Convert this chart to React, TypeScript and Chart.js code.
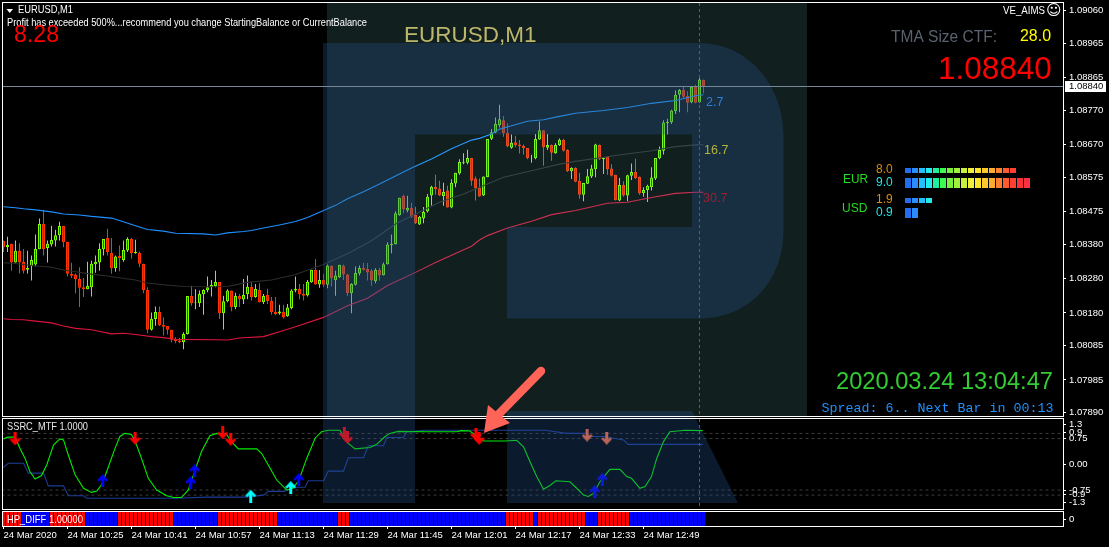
import React, { useEffect, useRef } from "react";
import { Chart, registerables } from "chart.js";

Chart.register(...registerables);

// ---------- candles (EURUSD M1) ----------
const openPrices = [
1.08389,1.08371,1.08381,1.08327,1.08361,1.08329,1.08306,1.08316,1.08321,1.08365,
1.08439,1.08369,1.08379,1.08391,1.08406,1.08433,1.08387,1.08294,1.08292,1.08279,
1.08255,1.08249,1.08255,1.08322,1.08327,1.08365,1.08398,1.08355,1.08310,1.08346,
1.08334,1.08362,1.08395,1.08354,1.08355,1.08323,1.08247,1.08131,1.08162,1.08183,
1.08145,1.08142,1.08131,1.08104,1.08100,1.08095,1.08119,1.08229,1.08208,1.08208,
1.08234,1.08246,1.08255,1.08258,1.08270,1.08179,1.08214,1.08245,1.08197,1.08229,
1.08219,1.08234,1.08256,1.08226,1.08247,1.08211,1.08232,1.08215,1.08183,1.08178,
1.08183,1.08170,1.08194,1.08245,1.08250,1.08235,1.08231,1.08269,1.08306,1.08263,
1.08276,1.08262,1.08317,1.08275,1.08284,1.08317,1.08292,1.08237,1.08262,1.08295,
1.08311,1.08308,1.08303,1.08272,1.08306,1.08290,1.08322,1.08377,1.08380,1.08464,
1.08520,1.08478,1.08486,1.08466,1.08437,1.08455,1.08475,1.08522,1.08547,1.08542,
1.08520,1.08536,1.08487,1.08557,1.08586,1.08617,1.08617,1.08631,1.08571,1.08544,
1.08522,1.08575,1.08687,1.08705,1.08726,1.08741,1.08704,1.08661,1.08677,1.08670,
1.08666,1.08660,1.08630,1.08630,1.08685,1.08712,1.08661,1.08669,1.08645,1.08668,
1.08684,1.08654,1.08592,1.08602,1.08564,1.08524,1.08556,1.08577,1.08598,1.08669,
1.08627,1.08635,1.08600,1.08582,1.08507,1.08552,1.08522,1.08579,1.08590,1.08576,
1.08528,1.08538,1.08546,1.08571,1.08630,1.08652,1.08732,1.08735,1.08767,1.08815,
1.08829,1.08811,1.08793,1.08840,1.08793,1.08858];
const closePrices = [
1.08371,1.08378,1.08327,1.08361,1.08327,1.08303,1.08311,1.08334,1.08366,1.08439,
1.08365,1.08381,1.08392,1.08406,1.08433,1.08386,1.08294,1.08288,1.08278,1.08253,
1.08249,1.08259,1.08323,1.08329,1.08366,1.08395,1.08357,1.08310,1.08344,1.08339,
1.08363,1.08395,1.08354,1.08358,1.08323,1.08246,1.08131,1.08163,1.08183,1.08144,
1.08140,1.08131,1.08102,1.08098,1.08095,1.08119,1.08229,1.08208,1.08210,1.08235,
1.08247,1.08255,1.08261,1.08270,1.08179,1.08214,1.08245,1.08197,1.08229,1.08220,
1.08232,1.08256,1.08226,1.08250,1.08211,1.08229,1.08215,1.08182,1.08177,1.08184,
1.08167,1.08196,1.08245,1.08250,1.08234,1.08230,1.08271,1.08306,1.08263,1.08276,
1.08262,1.08318,1.08281,1.08289,1.08320,1.08292,1.08237,1.08264,1.08296,1.08311,
1.08306,1.08298,1.08274,1.08306,1.08289,1.08322,1.08379,1.08381,1.08470,1.08515,
1.08482,1.08486,1.08460,1.08441,1.08460,1.08474,1.08518,1.08547,1.08540,1.08522,
1.08532,1.08487,1.08559,1.08588,1.08619,1.08620,1.08631,1.08565,1.08543,1.08519,
1.08577,1.08686,1.08706,1.08730,1.08744,1.08703,1.08665,1.08675,1.08668,1.08665,
1.08659,1.08630,1.08631,1.08686,1.08712,1.08662,1.08669,1.08646,1.08669,1.08684,
1.08652,1.08592,1.08602,1.08562,1.08524,1.08558,1.08578,1.08600,1.08670,1.08627,
1.08631,1.08598,1.08579,1.08509,1.08552,1.08522,1.08581,1.08590,1.08572,1.08528,
1.08538,1.08550,1.08574,1.08631,1.08654,1.08734,1.08736,1.08769,1.08815,1.08829,
1.08809,1.08792,1.08838,1.08792,1.08859,1.08840];
const highPrices = [
1.08391,1.08402,1.08381,1.08391,1.08383,1.08366,1.08361,1.08347,1.08408,1.08455,
1.08480,1.08391,1.08434,1.08422,1.08445,1.08433,1.08387,1.08326,1.08295,1.08313,
1.08282,1.08329,1.08332,1.08347,1.08383,1.08395,1.08425,1.08398,1.08347,1.08376,
1.08391,1.08400,1.08398,1.08393,1.08359,1.08323,1.08255,1.08181,1.08199,1.08199,
1.08167,1.08142,1.08131,1.08109,1.08107,1.08124,1.08229,1.08259,1.08249,1.08245,
1.08249,1.08286,1.08276,1.08303,1.08270,1.08230,1.08249,1.08245,1.08239,1.08235,
1.08279,1.08289,1.08271,1.08264,1.08266,1.08235,1.08250,1.08226,1.08226,1.08204,
1.08204,1.08206,1.08249,1.08286,1.08264,1.08264,1.08276,1.08306,1.08337,1.08305,
1.08294,1.08321,1.08318,1.08303,1.08320,1.08321,1.08294,1.08266,1.08315,1.08318,
1.08326,1.08325,1.08308,1.08310,1.08311,1.08327,1.08386,1.08408,1.08476,1.08515,
1.08524,1.08521,1.08501,1.08489,1.08462,1.08488,1.08526,1.08550,1.08582,1.08565,
1.08559,1.08550,1.08569,1.08588,1.08627,1.08645,1.08655,1.08631,1.08577,1.08571,
1.08577,1.08686,1.08715,1.08749,1.08786,1.08753,1.08732,1.08699,1.08696,1.08683,
1.08670,1.08660,1.08640,1.08701,1.08737,1.08712,1.08701,1.08670,1.08674,1.08688,
1.08686,1.08656,1.08604,1.08604,1.08588,1.08558,1.08599,1.08611,1.08672,1.08670,
1.08631,1.08635,1.08613,1.08582,1.08573,1.08563,1.08582,1.08615,1.08629,1.08577,
1.08546,1.08553,1.08604,1.08631,1.08664,1.08741,1.08745,1.08771,1.08827,1.08832,
1.08838,1.08825,1.08838,1.08844,1.08866,1.08859];
const lowPrices = [
1.08357,1.08357,1.08303,1.08327,1.08295,1.08295,1.08295,1.08274,1.08315,1.08365,
1.08347,1.08327,1.08373,1.08373,1.08391,1.08371,1.08286,1.08282,1.08237,1.08197,
1.08226,1.08249,1.08228,1.08297,1.08303,1.08347,1.08347,1.08294,1.08300,1.08301,
1.08329,1.08357,1.08338,1.08352,1.08313,1.08237,1.08121,1.08129,1.08143,1.08142,
1.08114,1.08117,1.08095,1.08092,1.08092,1.08074,1.08117,1.08201,1.08191,1.08197,
1.08175,1.08240,1.08228,1.08255,1.08162,1.08132,1.08211,1.08185,1.08191,1.08197,
1.08206,1.08220,1.08216,1.08224,1.08210,1.08206,1.08206,1.08175,1.08173,1.08175,
1.08164,1.08169,1.08191,1.08240,1.08220,1.08216,1.08228,1.08268,1.08262,1.08253,
1.08255,1.08252,1.08257,1.08230,1.08282,1.08276,1.08229,1.08179,1.08260,1.08289,
1.08303,1.08274,1.08259,1.08266,1.08274,1.08289,1.08321,1.08354,1.08379,1.08463,
1.08470,1.08473,1.08456,1.08439,1.08436,1.08441,1.08472,1.08492,1.08524,1.08520,
1.08492,1.08487,1.08485,1.08546,1.08582,1.08613,1.08613,1.08550,1.08507,1.08518,
1.08520,1.08575,1.08683,1.08703,1.08720,1.08693,1.08662,1.08658,1.08662,1.08644,
1.08641,1.08627,1.08617,1.08627,1.08684,1.08608,1.08654,1.08623,1.08643,1.08666,
1.08650,1.08590,1.08570,1.08560,1.08512,1.08505,1.08555,1.08573,1.08575,1.08625,
1.08584,1.08582,1.08577,1.08507,1.08505,1.08518,1.08505,1.08567,1.08570,1.08524,
1.08518,1.08503,1.08536,1.08567,1.08627,1.08641,1.08699,1.08730,1.08759,1.08764,
1.08805,1.08764,1.08790,1.08790,1.08792,1.08819];

// ---------- TMA band lines: [bar index], [price] ----------
const upperBandBars = [0,3,5,8,12,15,19,22,27,29,33,36,40,43,50,53,56,60,62,65,69,73,76,79,83,86,90,94,97,102,107,112,117,119,122,124,127,131,135,139,143,150,156,162,168,173,175];
const upperBandPrices = [1.08489,1.08486,1.08483,1.08480,1.08474,1.08468,1.08465,1.08461,1.08456,1.08449,1.08434,1.08423,1.08418,1.08412,1.08410,1.08407,1.08413,1.08417,1.08420,1.08427,1.08436,1.08446,1.08458,1.08473,1.08493,1.08512,1.08533,1.08555,1.08573,1.08602,1.08628,1.08658,1.08683,1.08688,1.08701,1.08715,1.08725,1.08738,1.08742,1.08752,1.08761,1.08769,1.08778,1.08790,1.08798,1.08812,1.08815];
const midBandBars = [0,3,7,12,15,18,22,25,28,33,36,40,45,51,56,61,67,73,80,86,92,98,103,109,115,125,132,139,143,153,162,168,173,175];
const midBandPrices = [1.08326,1.08324,1.08318,1.08313,1.08305,1.08300,1.08293,1.08289,1.08284,1.08276,1.08267,1.08262,1.08257,1.08256,1.08257,1.08269,1.08276,1.08292,1.08321,1.08352,1.08390,1.08439,1.08468,1.08502,1.08526,1.08575,1.08594,1.08613,1.08621,1.08638,1.08652,1.08664,1.08669,1.08669];
const lowerBandBars = [0,2,5,8,12,15,18,22,27,30,33,37,40,43,53,56,59,65,69,73,80,86,91,96,103,108,117,119,121,126,132,137,143,151,156,162,168,173,175];
const lowerBandPrices = [1.08163,1.08161,1.08160,1.08156,1.08151,1.08142,1.08135,1.08131,1.08119,1.08121,1.08117,1.08111,1.08108,1.08103,1.08102,1.08101,1.08107,1.08111,1.08125,1.08140,1.08167,1.08201,1.08223,1.08260,1.08298,1.08327,1.08374,1.08392,1.08405,1.08427,1.08447,1.08466,1.08478,1.08499,1.08502,1.08516,1.08528,1.08531,1.08531];

const priceTicks = [1.0906,1.08965,1.08865,1.0877,1.0867,1.08575,1.08475,1.0838,1.0828,1.0818,1.08085,1.07985,1.0789];
const currentPrice = 1.0884;
const separatorBar = 174;

// ---------- SSRC_MTF oscillator ----------
const ssrcBars = [0,1,2.9,4.1,5.4,6.6,7.9,9.5,10.8,12.5,14.1,15,16.2,17.9,20,22,23.3,24.5,25.8,27.9,29.1,30.4,32,32.9,34.5,36.2,38.3,40.8,42.5,44.5,46.2,47.9,49.5,51.6,53.3,55.8,57,58.7,63.3,64.5,66.2,68.3,70.8,72,73.7,75.8,77.9,79.5,81.2,84.1,86.2,87.9,91.6,93.3,95.4,96.6,98.7,105.8,113.3,114.5,116.6,120,125.4,128.3,130,131.6,133.3,135,136.6,138.1,141.6,143.3,145,146.2,147.5,149.1,151.6,154.1,155.8,157,159.1,160.4,162,163.3,165,166.6,170.4,174.8];
const ssrcValues = [0.74,0.79,0.79,0.47,0.17,-0.21,-0.43,-0.33,-0.02,0.56,0.74,0.71,0.27,-0.31,-0.70,-0.82,-0.78,-0.60,-0.21,0.47,0.81,0.90,0.87,0.68,0.17,-0.41,-0.75,-0.92,-0.97,-0.97,-0.75,-0.17,0.37,0.83,0.90,0.87,0.66,0.45,0.45,0.32,-0.02,-0.46,-0.75,-0.72,-0.51,0.17,0.76,0.95,0.99,0.99,0.61,0.45,0.49,0.58,0.81,0.90,0.96,0.95,0.95,0.98,0.97,0.68,0.68,0.70,0.51,0.08,-0.36,-0.73,-0.62,-0.48,-0.51,-0.70,-0.90,-0.94,-0.85,-0.51,-0.15,-0.15,-0.36,-0.41,-0.70,-0.65,-0.36,0.17,0.66,0.95,0.99,0.98];
const mtfBars = [0,1.2,5,6.2,10,11.2,15,16.2,20,20.8,43.3,50.8,60.4,65,66.2,70,72.9,75.4,76.2,80,81.2,85,86.2,90,91.2,95,95.8,100,100.8,105.4,135.4,140.8,145.8,146.6,150,155,156.2,174.8];
const mtfValues = [-0.09,0.03,0.03,-0.26,-0.26,-0.63,-0.63,-0.92,-0.92,-0.99,-0.99,-0.96,-0.96,-0.90,-0.79,-0.79,-0.67,-0.67,-0.48,-0.48,-0.20,-0.20,0.19,0.19,0.54,0.54,0.78,0.78,0.95,0.99,0.99,0.90,0.90,0.81,0.81,0.71,0.58,0.58];
const oscLevels = [0.9,0.75,-0.75,-0.9];
const oscTickValues = [1.155,0.92,0.75,0,-0.76,-0.88,-1.11];
const oscTickLabels = ["1.3","0.9","0.75","0.00","-0.75","-0.9","-1.3"];

const sellArrowBars = [2.9,32.9,54.8,56.8,85.2,86,118.1,118.9];
const sellArrowValues = [0.74,0.76,0.92,0.73,0.90,0.78,0.87,0.76];
const fadedSellBars = [145.9,150.8];
const fadedSellValues = [0.85,0.76];
const buyArrowBars = [24.8,47.8,46.8,73.8,147.8,149.7];
const buyArrowValues = [-0.48,-0.19,-0.54,-0.45,-0.80,-0.44];
const cyanArrowBars = [61.8,71.8];
const cyanArrowValues = [-0.93,-0.68];

// ---------- HP_DIFF (1 = red, -1 = blue) ----------
const hpDiff = [
1,1,1,1,1,-1,-1,-1,-1,-1,-1,-1,1,1,1,1,1,1,1,1,
1,-1,-1,-1,-1,-1,-1,-1,-1,1,1,1,1,1,1,1,1,1,1,1,
1,1,1,-1,-1,-1,-1,-1,-1,-1,-1,-1,-1,-1,1,1,1,1,1,1,
1,1,1,1,1,1,1,1,1,-1,-1,-1,-1,-1,-1,-1,-1,-1,-1,-1,
-1,-1,-1,-1,1,1,1,-1,-1,-1,-1,-1,-1,-1,-1,-1,-1,-1,-1,-1,
-1,-1,-1,-1,-1,-1,-1,-1,-1,-1,-1,-1,-1,-1,-1,-1,-1,-1,-1,-1,
-1,-1,-1,-1,-1,-1,1,1,1,1,1,1,1,-1,1,1,1,1,1,1,
1,1,1,1,1,1,-1,-1,-1,1,1,1,1,1,1,1,1,-1,-1,-1,
-1,-1,-1,-1,-1,-1,-1,-1,-1,-1,-1,-1,-1,-1,-1,-1];

const timeTickBars = [0,16,32,48,64,80,96,112,128,144,160];
const timeTickLabels = ["24 Mar 2020","24 Mar 10:25","24 Mar 10:41","24 Mar 10:57","24 Mar 11:13","24 Mar 11:29","24 Mar 11:45","24 Mar 12:01","24 Mar 12:17","24 Mar 12:33","24 Mar 12:49"];

// ---------- currency strength meter ----------
const strengthRows = [
  { count: 16, top: 168, h: 5 },
  { count: 18, top: 178, h: 10 },
  { count: 4, top: 198, h: 5 },
  { count: 2, top: 208, h: 10 },
];
const strengthColors = ["#1f6ff0","#2a8cff","#22c0ff","#22ecec","#1ef0a0","#3cfa50","#78f040","#a0f03c","#c8f03c","#f0f03c","#ffe62e","#ffc82e","#ffaa30","#ff8030","#ff5a30","#ff4030","#ff3038","#ff3040"];

const SANS = "'Liberation Sans'";
const labels = [
  { t: "EURUSD,M1", x: 18, y: 10.5, f: `10.5px ${SANS}`, c: "#ffffff", w: 55 },
  { t: "Profit has exceeded 500%...recommend you change StartingBalance or CurrentBalance", x: 7, y: 23.5, f: `10.5px ${SANS}`, c: "#ffffff", w: 360 },
  { t: "8.28", x: 14, y: 36, f: `23.5px ${SANS}`, c: "#ff0000", w: 45 },
  { t: "EURUSD,M1", x: 404, y: 36, f: `22.5px ${SANS}`, c: "#bdb76b", w: 137 },
  { t: "VE_AIMS", x: 1003, y: 11.5, f: `10.5px ${SANS}`, c: "#ffffff", w: 42 },
  { t: "\u263A", x: 1046, y: 11.5, f: `15px 'DejaVu Sans'`, c: "#ffffff" },
  { t: "TMA Size CTF:", x: 891, y: 37, f: `16.5px ${SANS}`, c: "#5a6270", w: 106 },
  { t: "28.0", x: 1020, y: 37, f: `16px ${SANS}`, c: "#ffff00", w: 31 },
  { t: "1.08840", x: 938, y: 70.5, f: `31.5px ${SANS}`, c: "#ff0000", w: 114 },
  { t: "2.7", x: 706, y: 103, f: `12.5px ${SANS}`, c: "#2a82d8" },
  { t: "16.7", x: 704, y: 151, f: `12.5px ${SANS}`, c: "#b4b43c" },
  { t: "30.7", x: 703, y: 199, f: `12.5px ${SANS}`, c: "#a01e32" },
  { t: "EUR", x: 843, y: 180, f: `12px ${SANS}`, c: "#22dd22", w: 25 },
  { t: "USD", x: 842, y: 209, f: `12px ${SANS}`, c: "#22dd22", w: 26 },
  { t: "8.0", x: 876, y: 170, f: `12px ${SANS}`, c: "#d98e14" },
  { t: "9.0", x: 876, y: 183, f: `12px ${SANS}`, c: "#1ee6e6" },
  { t: "1.9", x: 876, y: 200, f: `12px ${SANS}`, c: "#d98e14" },
  { t: "0.9", x: 876, y: 213, f: `12px ${SANS}`, c: "#1ee6e6" },
  { t: "2020.03.24 13:04:47", x: 836, y: 382, f: `23.7px ${SANS}`, c: "#32cd32", w: 217 },
  { t: "Spread: 6.. Next Bar in 00:13", x: 821.5, y: 408, f: `13.33px 'Liberation Mono'`, c: "#1e90ff" },
];

const bull = "#7cfc00";
const bear = "#ff3300";
const bullFill = "#1f6b00";
const bearFill = "#d02000";
const X_MIN = -0.5;
const X_MAX = 264.875;

function toXY(xs: number[], ys: number[]) {
  return xs.map((x, i) => ({ x, y: ys[i] }));
}

function drawText(ctx: any, l: any) {
  ctx.font = l.f;
  ctx.fillStyle = l.c;
  ctx.textBaseline = "middle";
  ctx.textAlign = "left";
  if (l.w) ctx.fillText(l.t, l.x, l.y, l.w);
  else ctx.fillText(l.t, l.x, l.y);
}

function drawLogo(ctx: any, pageTop: number, withPanel: boolean) {
  ctx.save();
  ctx.translate(0, -pageTop);
  if (withPanel) {
    ctx.fillStyle = "rgba(120,207,207,0.15)";
    ctx.fillRect(327, 3, 480, 413);
  }
  ctx.fillStyle = "rgba(37,87,147,0.3)";
  ctx.beginPath();
  ctx.moveTo(323, 43);
  ctx.lineTo(699, 43);
  ctx.bezierCurveTo(750, 43, 783.5, 88, 783.5, 135);
  ctx.lineTo(783.5, 230);
  ctx.bezierCurveTo(783.5, 280, 750, 318.5, 699, 318.5);
  ctx.lineTo(507, 318.5);
  ctx.lineTo(507, 227);
  ctx.lineTo(692, 227);
  ctx.lineTo(692, 134.5);
  ctx.lineTo(415, 134.5);
  ctx.lineTo(415, 503);
  ctx.lineTo(323, 503);
  ctx.closePath();
  ctx.moveTo(507, 411);
  ctx.lineTo(692, 411);
  ctx.lineTo(738, 503);
  ctx.lineTo(507, 503);
  ctx.closePath();
  ctx.fill();
  ctx.restore();
}

function drawCallout(ctx: any, pageTop: number) {
  ctx.save();
  ctx.translate(0, -pageTop);
  ctx.strokeStyle = "#ff6459";
  ctx.fillStyle = "#ff6459";
  ctx.lineWidth = 8.5;
  ctx.lineCap = "round";
  ctx.beginPath();
  ctx.moveTo(541, 371);
  ctx.lineTo(497, 416);
  ctx.stroke();
  ctx.beginPath();
  ctx.moveTo(484, 433);
  ctx.lineTo(488, 405);
  ctx.lineTo(510, 423);
  ctx.closePath();
  ctx.fill();
  ctx.restore();
}

function drawSeparator(chart: any, yTop: number, yBottom: number) {
  const ctx = chart.ctx;
  const x = Math.floor(chart.scales.x.getPixelForValue(separatorBar)) + 0.5;
  ctx.save();
  ctx.strokeStyle = "#66662a";
  ctx.lineWidth = 1;
  ctx.setLineDash([3, 3]);
  ctx.beginPath();
  ctx.moveTo(x, yTop);
  ctx.lineTo(x, yBottom);
  ctx.stroke();
  ctx.restore();
}

function drawFrame(chart: any) {
  const { left, right, top, bottom } = chart.chartArea;
  const ctx = chart.ctx;
  ctx.save();
  ctx.strokeStyle = "#ffffff";
  ctx.lineWidth = 1;
  ctx.strokeRect(left + 1, top - 0.5, right - left - 0.5, bottom - top + 1);
  ctx.restore();
}

function arrowImage(color: string, up: boolean) {
  const c = document.createElement("canvas");
  c.width = 11;
  c.height = 13;
  const g = c.getContext("2d") as CanvasRenderingContext2D;
  if (!up) {
    g.translate(0, 13);
    g.scale(1, -1);
  }
  g.fillStyle = color;
  g.beginPath();
  g.moveTo(5.5, 0);
  g.lineTo(11, 6);
  g.lineTo(9, 7.5);
  g.lineTo(7, 5.5);
  g.lineTo(7, 13);
  g.lineTo(4, 13);
  g.lineTo(4, 5.5);
  g.lineTo(2, 7.5);
  g.lineTo(0, 6);
  g.closePath();
  g.fill();
  return c;
}

function noPadding(s: any) {
  s.paddingTop = 0;
  s.paddingBottom = 0;
  s.paddingLeft = 0;
  s.paddingRight = 0;
}

function hiddenX() {
  return { type: "linear", display: false, offset: false, min: X_MIN, max: X_MAX, grid: { offset: false } };
}

function rightAxis(values: number[], labelFor: (v: number, i: number) => string, min: number, max: number) {
  return {
    position: "right",
    min,
    max,
    afterFit(s: any) { s.width = 46; noPadding(s); },
    afterBuildTicks(s: any) { s.ticks = values.map((value) => ({ value })); },
    grid: { drawOnChartArea: false, drawTicks: true, tickLength: 3, tickColor: "#ffffff" },
    border: { display: false },
    ticks: {
      autoSkip: false,
      padding: 3,
      color: "#ffffff",
      font: { family: "Liberation Sans", size: 9.5 },
      callback: labelFor,
    },
  };
}

const base = {
  responsive: false,
  animation: false,
  devicePixelRatio: 1,
  events: [],
};
const quiet = { legend: { display: false }, tooltip: { enabled: false } };

export default function App() {
  const mainRef = useRef<HTMLCanvasElement>(null);
  const oscRef = useRef<HTMLCanvasElement>(null);
  const hpRef = useRef<HTMLCanvasElement>(null);

  useEffect(() => {
    document.body.style.margin = "0";
    document.body.style.background = "#000";
    const idx = openPrices.map((_, i) => i);
    const isUp = idx.map((i) => closePrices[i] >= openPrices[i]);
    const colors = isUp.map((u) => (u ? bull : bear));
    const fills = isUp.map((u) => (u ? bullFill : bearFill));

    const band = (xs: number[], ys: number[], color: string) => ({
      type: "line", data: toXY(xs, ys), borderColor: color, borderWidth: 1.1,
      pointRadius: 0, tension: 0, order: 1,
    });

    const main = new Chart(mainRef.current as any, {
      type: "bar",
      data: {
        datasets: [
          band(upperBandBars, upperBandPrices, "#1e90ff"),
          band(midBandBars, midBandPrices, "#2c2c2c"),
          band(lowerBandBars, lowerBandPrices, "#dc143c"),
          {
            data: idx.map((i) => ({ x: i, y: [Math.min(openPrices[i], closePrices[i]), Math.max(openPrices[i], closePrices[i])] })),
            grouped: false, barThickness: 3, backgroundColor: fills, borderColor: colors,
            borderWidth: 1, borderSkipped: false, inflateAmount: 0, order: 2,
          },
          {
            data: idx.map((i) => ({ x: i, y: [lowPrices[i], highPrices[i]] })),
            grouped: false, barThickness: 1, backgroundColor: colors, borderWidth: 0,
            inflateAmount: 0, order: 3,
          },
        ],
      },
      options: {
        ...base,
        layout: { autoPadding: false, padding: { left: 1.5, top: 3, bottom: 2, right: 0 } },
        plugins: quiet,
        scales: {
          x: hiddenX(),
          y: rightAxis(priceTicks, (v: number) => v.toFixed(5), 1.0788, 1.09082),
        },
      },
      plugins: [{
        id: "mainDecor",
        afterDatasetsDraw(chart: any) {
          drawLogo(chart.ctx, 0, true);
        },
        afterDraw(chart: any) {
          const ctx = chart.ctx;
          const py = Math.floor(chart.scales.y.getPixelForValue(currentPrice)) + 0.5;
          ctx.save();
          ctx.strokeStyle = "#778899";
          ctx.lineWidth = 1;
          ctx.beginPath();
          ctx.moveTo(3, py);
          ctx.lineTo(chart.chartArea.right, py);
          ctx.stroke();
          drawSeparator(chart, 3, 416);
          drawFrame(chart);
          ctx.fillStyle = "#ffffff";
          ctx.fillRect(1065, py - 5.5, 41, 11);
          ctx.font = `9.5px ${SANS}`;
          ctx.fillStyle = "#000000";
          ctx.textBaseline = "middle";
          ctx.textAlign = "left";
          ctx.fillText(currentPrice.toFixed(5), 1069, py);
          // panel triangle
          ctx.fillStyle = "#ffffff";
          ctx.beginPath();
          ctx.moveTo(6.5, 9);
          ctx.lineTo(13, 9);
          ctx.lineTo(9.75, 13);
          ctx.closePath();
          ctx.fill();
          labels.forEach((l) => drawText(ctx, l));
          strengthRows.forEach((r) => {
            for (let k = 0; k < r.count; k++) {
              ctx.fillStyle = strengthColors[k];
              ctx.fillRect(905 + k * 7, r.top, 6, r.h);
            }
          });
          drawCallout(ctx, 0);
          ctx.restore();
        },
      }],
    } as any);

    const oscX = [X_MIN, X_MAX];
    const osc = new Chart(oscRef.current as any, {
      type: "line",
      data: {
        datasets: [
          ...oscLevels.map((lv) => ({
            data: oscX.map((x) => ({ x, y: lv })), borderColor: "#3c3c3c", borderWidth: 1,
            borderDash: [3, 3], pointRadius: 0, order: 5,
          })),
          { data: toXY(mtfBars, mtfValues), borderColor: "#1c3c96", borderWidth: 1.1, pointRadius: 0, tension: 0, order: 4 },
          { data: toXY(ssrcBars, ssrcValues), borderColor: "#00ee00", borderWidth: 1.1, pointRadius: 0, tension: 0, order: 3 },
          { type: "scatter", data: toXY(sellArrowBars, sellArrowValues), pointStyle: arrowImage("#ff0000", false), showLine: false, order: 1 },
          { type: "scatter", data: toXY(fadedSellBars, fadedSellValues), pointStyle: arrowImage("#ff6a42", false), showLine: false, order: 1 },
          { type: "scatter", data: toXY(buyArrowBars, buyArrowValues), pointStyle: arrowImage("#0000ff", true), showLine: false, order: 1 },
          { type: "scatter", data: toXY(cyanArrowBars, cyanArrowValues), pointStyle: arrowImage("#00ffff", true), showLine: false, order: 1 },
        ],
      },
      options: {
        ...base,
        layout: { autoPadding: false, padding: { left: 1.5, top: 1, bottom: 2, right: 0 } },
        plugins: quiet,
        scales: {
          x: hiddenX(),
          y: rightAxis(oscTickValues, (_: number, i: number) => oscTickLabels[i], -1.305, 1.32),
        },
      },
      plugins: [{
        id: "oscDecor",
        afterDatasetsDraw(chart: any) {
          drawLogo(chart.ctx, 418, false);
        },
        afterDraw(chart: any) {
          drawSeparator(chart, 1, 91);
          drawFrame(chart);
          drawText(chart.ctx, { t: "SSRC_MTF 1.0000", x: 7, y: 9.5, f: `10.5px ${SANS}`, c: "#e8e8e8", w: 81 });
          drawCallout(chart.ctx, 418);
        },
      }],
    } as any);

    const hp = new Chart(hpRef.current as any, {
      type: "bar",
      data: {
        datasets: [{
          data: hpDiff.map((_, i) => ({ x: i, y: [-1, 1] })),
          grouped: false, barThickness: 3, borderWidth: 0, inflateAmount: 0,
          backgroundColor: hpDiff.map((v) => (v > 0 ? "#ff0000" : "#0000ff")),
        }],
      },
      options: {
        ...base,
        layout: { autoPadding: false, padding: { left: 1.5, top: 1, bottom: 0, right: 0 } },
        plugins: quiet,
        scales: {
          x: {
            type: "linear", offset: false, min: X_MIN, max: X_MAX,
            afterFit(s: any) { s.height = 21; noPadding(s); },
            afterBuildTicks(s: any) { s.ticks = timeTickBars.map((value) => ({ value })); },
            grid: { offset: false, drawOnChartArea: false, drawTicks: true, tickLength: 3, tickColor: "#ffffff" },
            border: { display: false },
            ticks: {
              autoSkip: false, maxRotation: 0, minRotation: 0, align: "start", padding: 1, color: "#ffffff",
              font: { family: "Liberation Sans", size: 9.5 },
              callback: (_: number, i: number) => timeTickLabels[i],
            },
          },
          y: rightAxis([0], () => "0", -1, 1),
        },
      },
      plugins: [{
        id: "hpDecor",
        afterDraw(chart: any) {
          drawFrame(chart);
          drawText(chart.ctx, { t: "HP_DIFF 1.00000", x: 7, y: 9, f: `10.5px ${SANS}`, c: "#ffffff", w: 76 });
        },
      }],
    } as any);

    return () => {
      main.destroy();
      osc.destroy();
      hp.destroy();
    };
  }, []);

  const abs = (top: number): React.CSSProperties => ({ position: "absolute", left: 0, top, display: "block" });
  return (
    <div style={{ position: "relative", width: 1109, height: 547, background: "#000", overflow: "hidden" }}>
      <canvas ref={mainRef} width={1109} height={418} style={abs(0)} />
      <canvas ref={oscRef} width={1109} height={93} style={abs(418)} />
      <canvas ref={hpRef} width={1109} height={36} style={abs(511)} />
    </div>
  );
}
